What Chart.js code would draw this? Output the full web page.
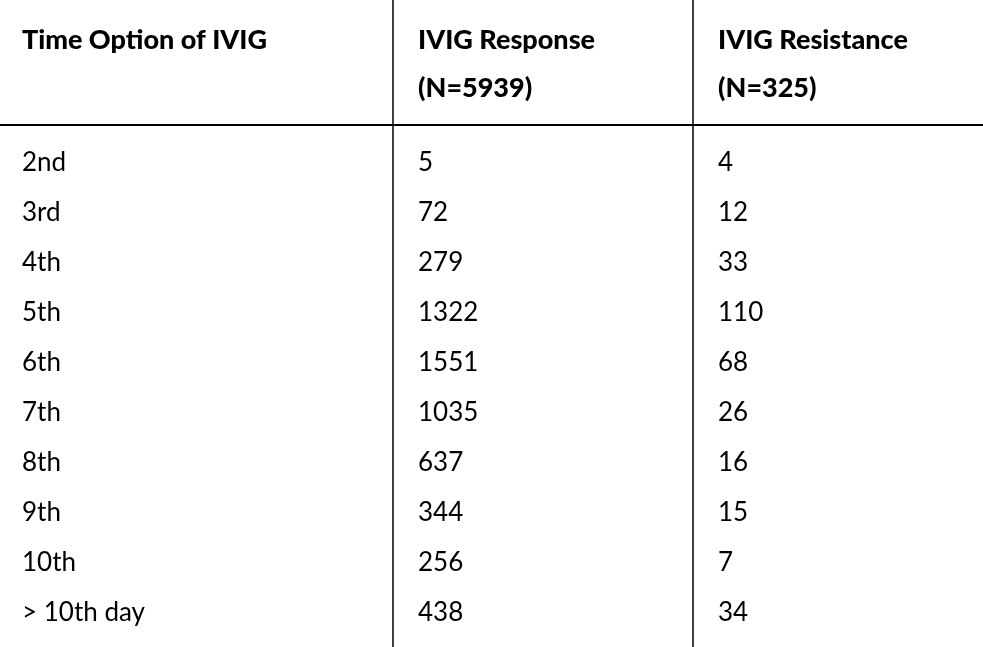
<!DOCTYPE html>
<html lang="en">
<head>
<meta charset="UTF-8">
<title>IVIG timing</title>
<script src="https://cdn.jsdelivr.net/npm/chart.js@4.4.0"></script>
<style>
  html, body { margin: 0; padding: 0; background: #fff; }
  #wrap { width: 983px; height: 647px; }
</style>
</head>
<body>
<div id="wrap"><canvas id="c"></canvas></div>
<script>
const headers = [['Time Option of IVIG'], ['IVIG Response', '(N=5939)'], ['IVIG Resistance', '(N=325)']];
const timeOptions = ['2nd', '3rd', '4th', '5th', '6th', '7th', '8th', '9th', '10th', '> 10th day'];
const responseCounts = [5, 72, 279, 1322, 1551, 1035, 637, 344, 256, 438];
const resistanceCounts = [4, 12, 33, 110, 68, 26, 16, 15, 7, 34];

// layout in scale units: x in px-like units, y in row units
const colLeft = [22, 418, 718];
const colDividers = [393, 693];
const headerLineRows = [-2.46, -1.5];
const ruleRow = -0.76;

const tablePlugin = {
  id: 'table',
  afterDraw(chart) {
    const { ctx, scales: { x, y } } = chart;
    ctx.save();
    ctx.fillStyle = '#000';
    ctx.strokeStyle = '#000';
    ctx.textBaseline = 'middle';
    ctx.font = '900 27px Lato, "Open Sans", sans-serif';
    headers.forEach((lines, c) => {
      lines.forEach((t, i) => ctx.fillText(t, x.getPixelForValue(colLeft[c]), y.getPixelForValue(headerLineRows[i])));
    });
    ctx.font = '26px Lato, "Open Sans", sans-serif';
    const cols = [timeOptions, responseCounts, resistanceCounts];
    cols.forEach((vals, c) => {
      vals.forEach((v, r) => ctx.fillText(String(v), x.getPixelForValue(colLeft[c]), y.getPixelForValue(r)));
    });
    ctx.lineWidth = 2;
    ctx.beginPath();
    ctx.moveTo(x.left, y.getPixelForValue(ruleRow));
    ctx.lineTo(x.right, y.getPixelForValue(ruleRow));
    ctx.stroke();
    ctx.lineWidth = 1.5;
    colDividers.forEach(d => {
      const px = x.getPixelForValue(d);
      ctx.beginPath();
      ctx.moveTo(px, y.top);
      ctx.lineTo(px, y.bottom);
      ctx.stroke();
    });
    ctx.restore();
  }
};

const points = [];
timeOptions.forEach((t, r) => colLeft.forEach(cx => points.push({ x: cx, y: r })));

new Chart(document.getElementById('c'), {
  type: 'scatter',
  data: { datasets: [{ data: points, pointRadius: 0, showLine: false }] },
  options: {
    responsive: true,
    maintainAspectRatio: false,
    animation: false,
    layout: { padding: 0 },
    plugins: { legend: { display: false }, tooltip: { enabled: false } },
    scales: {
      x: { type: 'linear', min: 0, max: 983, display: false },
      y: { type: 'linear', min: -3.26, max: 9.68, reverse: true, display: false }
    }
  },
  plugins: [tablePlugin]
});
</script>
</body>
</html>
